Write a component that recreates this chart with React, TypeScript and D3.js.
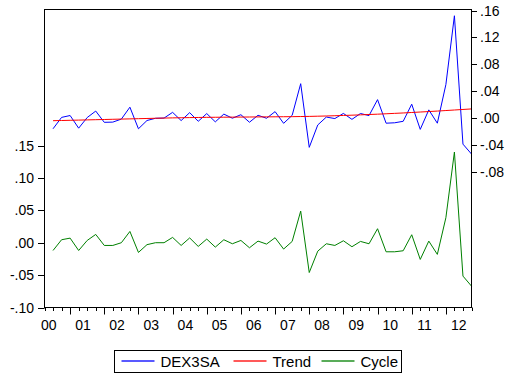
import React from 'react';
import * as d3 from 'd3';

// quarterly sample, 2000Q3 .. 2012Q4 (frame starts one quarter earlier)
const years = d3.range(2000, 2013);
const quarters = years.flatMap((y) => [1, 2, 3, 4].map((q) => ({ y, q }))).slice(2);

const dex3sa = [
  -0.0157, 0.0012, 0.004, -0.0148, 0.001, 0.0106, -0.0061, -0.0058, -0.0013, 0.0164,
  -0.0157, -0.0034, -0.0001, 0.0002, 0.0087, -0.0035, 0.0083, -0.0046, 0.0069, -0.0054,
  0.0061, 0.0, 0.0052, -0.006, 0.0044, -0.0001, 0.0098, -0.0076, 0.0043, 0.0513,
  -0.0433, -0.01, 0.0017, -0.0005, 0.0071, -0.0017, 0.007, 0.0039, 0.0276, -0.0074,
  -0.0068, -0.0046, 0.0208, -0.0166, 0.0124, -0.0074, 0.05, 0.1522, -0.0385, -0.0532,
];

const trend = [
  -0.0037, -0.0034, -0.0031, -0.0028, -0.0025, -0.0022, -0.0019, -0.0016, -0.0013, -0.001,
  -0.0007, -0.0004, -0.0001, 0.0002, 0.0005, 0.0007, 0.0009, 0.0011, 0.0013, 0.0014,
  0.0015, 0.0016, 0.0017, 0.0018, 0.0019, 0.002, 0.0021, 0.0022, 0.0023, 0.0025,
  0.0027, 0.003, 0.0033, 0.0037, 0.0041, 0.0045, 0.005, 0.0055, 0.006, 0.0066,
  0.0072, 0.0078, 0.0085, 0.0092, 0.0099, 0.0106, 0.0114, 0.0122, 0.013, 0.0138,
];

const cycle = [
  -0.012, 0.0046, 0.0071, -0.012, 0.0035, 0.0128, -0.0042, -0.0042, 0.0, 0.0174,
  -0.015, -0.003, 0.0, 0.0, 0.0082, -0.0042, 0.0074, -0.0057, 0.0056, -0.0068,
  0.0046, -0.0016, 0.0035, -0.0078, 0.0025, -0.0021, 0.0077, -0.0098, 0.002, 0.0488,
  -0.046, -0.013, -0.0016, -0.0042, 0.003, -0.0062, 0.002, -0.0016, 0.0216, -0.014,
  -0.014, -0.0124, 0.0123, -0.0258, 0.0025, -0.018, 0.0386, 0.14, -0.0515, -0.067,
];

const leftTicks = [-0.1, -0.05, 0, 0.05, 0.1, 0.15];
const rightTicks = [-0.08, -0.04, 0, 0.04, 0.08, 0.12, 0.16];

const legendItems = [
  { name: 'DEX3SA', color: '#0000ff' },
  { name: 'Trend', color: '#ff0000' },
  { name: 'Cycle', color: '#008000' },
];

const W = 508;
const H = 376;
const plot = { left: 44.5, right: 471.5, top: 9.5, bottom: 307.5 };

const fmt = (v: number) => {
  const s = d3.format('.2f')(Math.abs(v)).replace(/^0/, '');
  return (v < 0 ? '-' : '') + s;
};

// quarter index: 2000Q1 = 0
const qIndex = (d: { y: number; q: number }) => (d.y - 2000) * 4 + (d.q - 1);

export default function App() {
  const x = d3.scaleLinear().domain([1, 51]).range([plot.left, plot.right]);
  const yLeft = d3.scaleLinear().domain([-0.1, 0.36]).range([plot.bottom, plot.top]);
  const yRight = d3.scaleLinear().domain([-0.2812, 0.1615]).range([plot.bottom, plot.top]);

  const lineR = d3
    .line<number>()
    .x((_, i) => x(qIndex(quarters[i])))
    .y((d) => yRight(d));
  const lineL = d3
    .line<number>()
    .x((_, i) => x(qIndex(quarters[i])))
    .y((d) => yLeft(d));

  const minorTicks = d3.range(1, 52);
  const majorTicks = years.map((y) => (y - 2000) * 4).filter((t) => t >= 1);
  const font = 'Arial, "Liberation Sans", sans-serif';

  // legend x positions
  const legendX = [121.5, 233.5, 321.5];

  return (
    <svg
      width={W}
      height={H}
      style={{ position: 'absolute', left: 0, top: 0, background: '#fff' }}
      xmlns="http://www.w3.org/2000/svg"
    >
      <rect x={0} y={0} width={W} height={H} fill="#fff" />

      {/* series */}
      <path d={lineR(dex3sa) || ''} fill="none" stroke="#0000ff" strokeWidth={1} />
      <path d={lineR(trend) || ''} fill="none" stroke="#ff0000" strokeWidth={1} />
      <path d={lineL(cycle) || ''} fill="none" stroke="#008000" strokeWidth={1} />

      {/* frame */}
      <rect
        x={plot.left}
        y={plot.top}
        width={plot.right - plot.left}
        height={plot.bottom - plot.top}
        fill="none"
        stroke="#000"
        strokeWidth={1}
      />

      {/* left axis */}
      {leftTicks.map((t) => (
        <g key={'l' + t}>
          <line x1={38} x2={plot.left} y1={Math.round(yLeft(t)) + 0.5} y2={Math.round(yLeft(t)) + 0.5} stroke="#000" />
          <text x={34} y={yLeft(t) + 5} textAnchor="end" fontFamily={font} fontSize={14} fill="#000">
            {fmt(t)}
          </text>
        </g>
      ))}

      {/* right axis */}
      {rightTicks.map((t) => (
        <g key={'r' + t}>
          <line x1={plot.right} x2={477} y1={Math.round(yRight(t)) + 0.5} y2={Math.round(yRight(t)) + 0.5} stroke="#000" />
          <text x={480} y={yRight(t) + 5} textAnchor="start" fontFamily={font} fontSize={14} fill="#000">
            {fmt(t)}
          </text>
        </g>
      ))}

      {/* bottom axis */}
      {minorTicks.map((t) => (
        <line
          key={'m' + t}
          x1={Math.round(x(t)) + 0.5}
          x2={Math.round(x(t)) + 0.5}
          y1={plot.bottom}
          y2={plot.bottom + 3.5}
          stroke="#000"
        />
      ))}
      {majorTicks.map((t) => (
        <line
          key={'M' + t}
          x1={Math.round(x(t)) + 0.5}
          x2={Math.round(x(t)) + 0.5}
          y1={plot.bottom}
          y2={plot.bottom + 7}
          stroke="#000"
        />
      ))}
      {years.map((y) => (
        <text
          key={'y' + y}
          x={x((y - 2000) * 4 + 1.5)}
          y={329.5}
          textAnchor="middle"
          fontFamily={font}
          fontSize={14}
          fill="#000"
        >
          {String(y % 100).padStart(2, '0')}
        </text>
      ))}

      {/* legend */}
      <rect x={114.5} y={350.5} width={287} height={22} fill="#fff" stroke="#000" strokeWidth={1} />
      {legendItems.map((it, i) => (
        <g key={it.name}>
          <rect
            x={legendX[i]}
            y={360}
            width={33}
            height={2}
            fill={it.color}
            fillOpacity={0.65}
          />
          <text x={legendX[i] + 39} y={367} fontFamily={font} fontSize={15} fill="#000">
            {it.name}
          </text>
        </g>
      ))}
    </svg>
  );
}
